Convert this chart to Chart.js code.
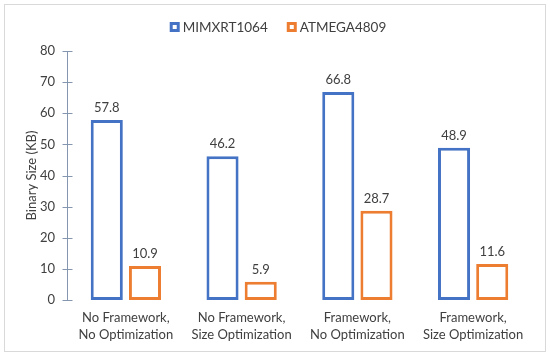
<!DOCTYPE html>
<html>
<head>
<meta charset="utf-8">
<script src="https://cdn.jsdelivr.net/npm/chart.js@4"></script>
<style>
html,body{margin:0;padding:0;background:#fff;}
#wrap{position:relative;width:550px;height:356px;}
</style>
</head>
<body>
<div id="wrap"><canvas id="c" width="550" height="356"></canvas></div>
<script>
const categories = [["No Framework,","No Optimization"],["No Framework,","Size Optimization"],["Framework,","No Optimization"],["Framework,","Size Optimization"]];
const seriesNames = ["MIMXRT1064","ATMEGA4809"];
const mimxrt = [57.8, 46.2, 66.8, 48.9];
const atmega = [10.9, 5.9, 28.7, 11.6];
const yTicks = [0,10,20,30,40,50,60,70,80];

const FONT = "Lato, 'Liberation Sans', sans-serif";
const TXT = '#404040';
const AXIS = '#8496b0';

const frame = {
  id:'frame',
  beforeDraw(chart){
    const c = chart.ctx;
    c.save();
    c.fillStyle='#fff';
    c.fillRect(0,0,chart.width,chart.height);
    c.strokeStyle='#d9d9d9';
    c.lineWidth=1;
    c.strokeRect(4.5,4.5,541,347);
    c.restore();
  },
  afterDatasetsDraw(chart){
    const c = chart.ctx;
    const y = chart.scales.y;
    c.save();
    // axis with crossing ticks
    c.strokeStyle=AXIS; c.lineWidth=1;
    const x0 = Math.round(y.right)-0.5;
    c.beginPath();
    c.moveTo(x0, y.getPixelForValue(80)); c.lineTo(x0, y.getPixelForValue(0));
    yTicks.forEach(v=>{const py=Math.round(y.getPixelForValue(v))+0.5; c.moveTo(x0-5,py); c.lineTo(x0+5,py);});
    c.stroke();
    // data labels
    c.fillStyle=TXT; c.font="13px "+FONT; c.textAlign='center'; c.textBaseline='alphabetic';
    chart.data.datasets.forEach((ds,i)=>{
      chart.getDatasetMeta(i).data.forEach((bar,j)=>{
        c.fillText(ds.data[j].toFixed(1), bar.x, bar.y-8);
      });
    });
    // legend
    c.font="13.5px "+FONT; c.textBaseline='middle'; c.textAlign='left';
    const box=10, gap=3, sep=19, ly=27;
    const widths = chart.data.datasets.map(ds=>box+gap+c.measureText(ds.label).width);
    const total = widths.reduce((a,b)=>a+b,0)+sep*(widths.length-1);
    let lx = 275 - total/2 + 3;
    chart.data.datasets.forEach((ds,i)=>{
      c.fillStyle=ds.borderColor;
      c.fillRect(lx, ly-box/2, box, box);
      c.fillStyle='#fff';
      c.fillRect(lx+3, ly-box/2+3, box-6, box-6);
      c.fillStyle=TXT;
      c.fillText(ds.label, lx+box+gap, ly+1);
      lx += widths[i]+sep;
    });
    c.restore();
  }
};

new Chart(document.getElementById('c'),{
  type:'bar',
  data:{
    labels:categories,
    datasets:[
      {label:seriesNames[0],data:mimxrt,backgroundColor:'#ffffff',borderColor:'#4472c4',borderWidth:3,borderSkipped:false},
      {label:seriesNames[1],data:atmega,backgroundColor:'#ffffff',borderColor:'#ed7d31',borderWidth:3,borderSkipped:false}
    ]
  },
  plugins:[frame],
  options:{
    responsive:false,animation:false,
    layout:{padding:{left:23,right:19,top:51,bottom:0}},
    datasets:{bar:{categoryPercentage:0.66,barPercentage:0.84}},
    plugins:{
      legend:{display:false},
      tooltip:{enabled:false}
    },
    scales:{
      x:{grid:{display:false,drawTicks:false},border:{display:false},
         afterFit(s){s.height=56;},
         ticks:{color:TXT,font:{family:FONT,size:13,lineHeight:1.3},maxRotation:0,padding:9}},
      y:{min:0,max:80,afterBuildTicks(s){s.ticks=yTicks.map(v=>({value:v}));},
         afterFit(s){s.width=45;},
         grid:{display:false,drawTicks:false},border:{display:false},
         ticks:{color:TXT,font:{family:FONT,size:13},padding:13},
         title:{display:true,text:'Binary Size (KB)',color:TXT,font:{family:FONT,size:13},padding:{top:1,bottom:4}}}
    }
  }
});
</script>
</body>
</html>
